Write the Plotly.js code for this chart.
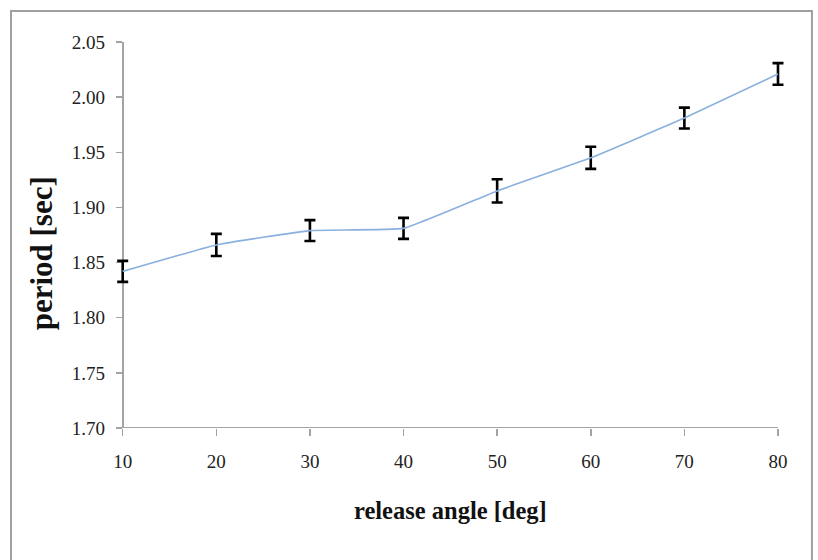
<!DOCTYPE html>
<html>
<head>
<meta charset="utf-8">
<script src="https://cdn.plot.ly/plotly-3.0.1.min.js"></script>
<style>html,body{margin:0;padding:0;background:#fff;}#chart{width:818px;height:560px;}</style>
</head>
<body>
<div id="chart"></div>
<script>
var angles = [10, 20, 30, 40, 50, 60, 70, 80];
var periods = [1.842, 1.866, 1.879, 1.881, 1.915, 1.945, 1.981, 2.021];
var errors = [0.0095, 0.01, 0.0095, 0.0095, 0.0105, 0.01, 0.0095, 0.0098];
var yTicks = [1.70, 1.75, 1.80, 1.85, 1.90, 1.95, 2.00, 2.05];
var yTickText = ["1.70", "1.75", "1.80", "1.85", "1.90", "1.95", "2.00", "2.05"];
var xTicks = [10, 20, 30, 40, 50, 60, 70, 80];
var xMin = 10, xMax = 80, yMin = 1.70, yMax = 2.05;

var trace = {
  x: angles,
  y: periods,
  type: 'scatter',
  mode: 'lines',
  line: {color: '#8ab0dd', width: 1.6, shape: 'spline', smoothing: 0.3},
  error_y: {type: 'data', array: errors, visible: true, color: '#000', thickness: 2.6, width: 5.5},
  cliponaxis: false,
  hoverinfo: 'none'
};

var serif = '"Liberation Serif", "DejaVu Serif", serif';
var axisGray = '#a3a3a3';
var layout = {
  width: 818, height: 560,
  margin: {l: 115, r: 32, t: 42, b: 132},
  paper_bgcolor: '#fff', plot_bgcolor: '#fff',
  showlegend: false,
  xaxis: {
    range: [9.1775, 80.856], tickvals: xTicks, ticktext: xTicks.map(String),
    showgrid: false, zeroline: false, showline: false,
    ticks: 'outside', ticklen: 7, tickwidth: 1.5, tickcolor: axisGray,
    tickfont: {family: serif, size: 19, color: '#222'},
    ticklabelstandoff: 9, layer: 'below traces'
  },
  yaxis: {
    range: [yMin, yMax], tickvals: yTicks, ticktext: yTickText,
    anchor: 'free', position: 0.01148,
    showgrid: false, zeroline: false,
    showline: true, linecolor: axisGray, linewidth: 2,
    ticks: 'outside', ticklen: 6, tickwidth: 1.5, tickcolor: axisGray,
    tickfont: {family: serif, size: 19, color: '#222'},
    ticklabelstandoff: 7, layer: 'below traces'
  },
  annotations: [
    {text: '<b>release angle [deg]</b>', xref: 'paper', yref: 'paper',
     x: 0.5, y: -0.213, xanchor: 'center', yanchor: 'middle', showarrow: false,
     font: {family: serif, size: 24.5, color: '#111'}},
    {text: '<b>period [sec]</b>', xref: 'paper', yref: 'paper',
     x: -0.11, y: 0.453, xanchor: 'center', yanchor: 'middle', showarrow: false, textangle: -90,
     font: {family: serif, size: 31, color: '#111'}}
  ],
  shapes: [
    {type: 'line', xref: 'x', yref: 'y', x0: xMin, x1: xMax, y0: yMin, y1: yMin,
     line: {color: axisGray, width: 2}, layer: 'below'},
    {type: 'rect', xref: 'paper', yref: 'paper',
     x0: -0.155, x1: 1.0387, y0: -0.36, y1: 1.0804,
     line: {color: '#a0a0a0', width: 2}, fillcolor: 'rgba(0,0,0,0)', layer: 'below'}
  ]
};

Plotly.newPlot('chart', [trace], layout, {staticPlot: true, displayModeBar: false});
</script>
</body>
</html>
